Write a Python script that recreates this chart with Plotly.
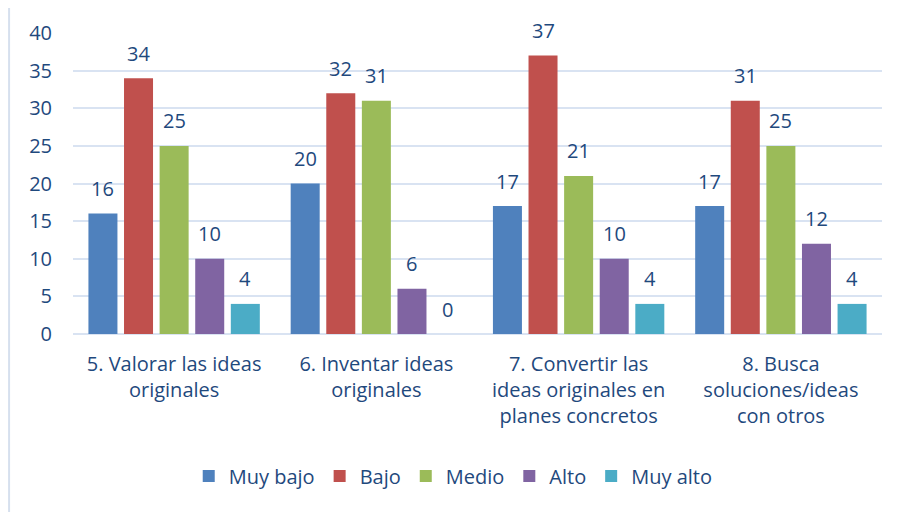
import plotly.graph_objects as go

# --- data ---
categories = [
    "5. Valorar las ideas<br>originales",
    "6. Inventar ideas<br>originales",
    "7. Convertir las<br>ideas originales en<br>planes concretos",
    "8. Busca<br>soluciones/ideas<br>con otros",
]
series_names = ["Muy bajo", "Bajo", "Medio", "Alto", "Muy alto"]
muy_bajo = [16, 20, 17, 17]
bajo = [34, 32, 37, 31]
medio = [25, 31, 21, 25]
alto = [10, 6, 10, 12]
muy_alto = [4, 0, 4, 4]
y_ticks = [0, 5, 10, 15, 20, 25, 30, 35, 40]

series_values = [muy_bajo, bajo, medio, alto, muy_alto]
colors = ["#4F81BD", "#C0504D", "#9BBB59", "#8064A2", "#4BACC6"]
text_color = "#1F497D"
grid_color = "#D9E3F2"
font_family = "'Open Sans', Lato, sans-serif"
FS = 20

BARGAP = 0.12
x_idx = list(range(len(categories)))

fig = go.Figure()
for name, vals, col in zip(series_names, series_values, colors):
    fig.add_trace(go.Bar(x=x_idx, y=vals, name=name, marker_color=col,
                         marker_line_width=0))

# value labels above the bars (offset by slot within the group)
slot = (1 - BARGAP) / len(series_names)
annotations = []
for j, vals in enumerate(series_values):
    for i, v in enumerate(vals):
        annotations.append(dict(
            x=i + (j - (len(series_names) - 1) / 2) * slot, y=v, xref="x", yref="y",
            text=str(v), showarrow=False, yanchor="middle", yshift=25,
            font=dict(size=FS, color=text_color, family=font_family)))

# page body adds an 8px offset, so the figure is 8px smaller each way
fig.update_layout(
    width=891, height=504,
    margin=dict(l=65, r=17, t=25, b=178),
    paper_bgcolor="#ffffff", plot_bgcolor="#ffffff",
    barmode="group", bargap=BARGAP, bargroupgap=0.185,
    font=dict(family=font_family, size=FS, color=text_color),
    showlegend=True,
    legend=dict(orientation="h", x=0.47, xanchor="center", y=-0.472, yanchor="middle",
                font=dict(size=FS, color=text_color), itemwidth=30, traceorder="normal"),
    annotations=annotations,
    shapes=[dict(type="rect", xref="paper", yref="paper",
                 x0=-0.079, x1=1.05, y0=-0.65, y1=1.096,
                 line=dict(color="#D6E0EE", width=2), layer="below")],
)
fig.update_xaxes(tickvals=x_idx, ticktext=categories, range=[-0.5, len(categories) - 0.5],
                 showgrid=False, zeroline=False, showline=False, ticks="",
                 tickfont=dict(size=FS, color=text_color), ticklabelstandoff=16)
fig.update_yaxes(range=[0, 40], tickvals=y_ticks, showgrid=True, gridcolor=grid_color,
                 gridwidth=2, zeroline=True, zerolinecolor=grid_color, zerolinewidth=2,
                 showline=False, ticks="", tickfont=dict(size=FS, color=text_color),
                 ticklabelstandoff=20)

fig.write_html("out.html")
